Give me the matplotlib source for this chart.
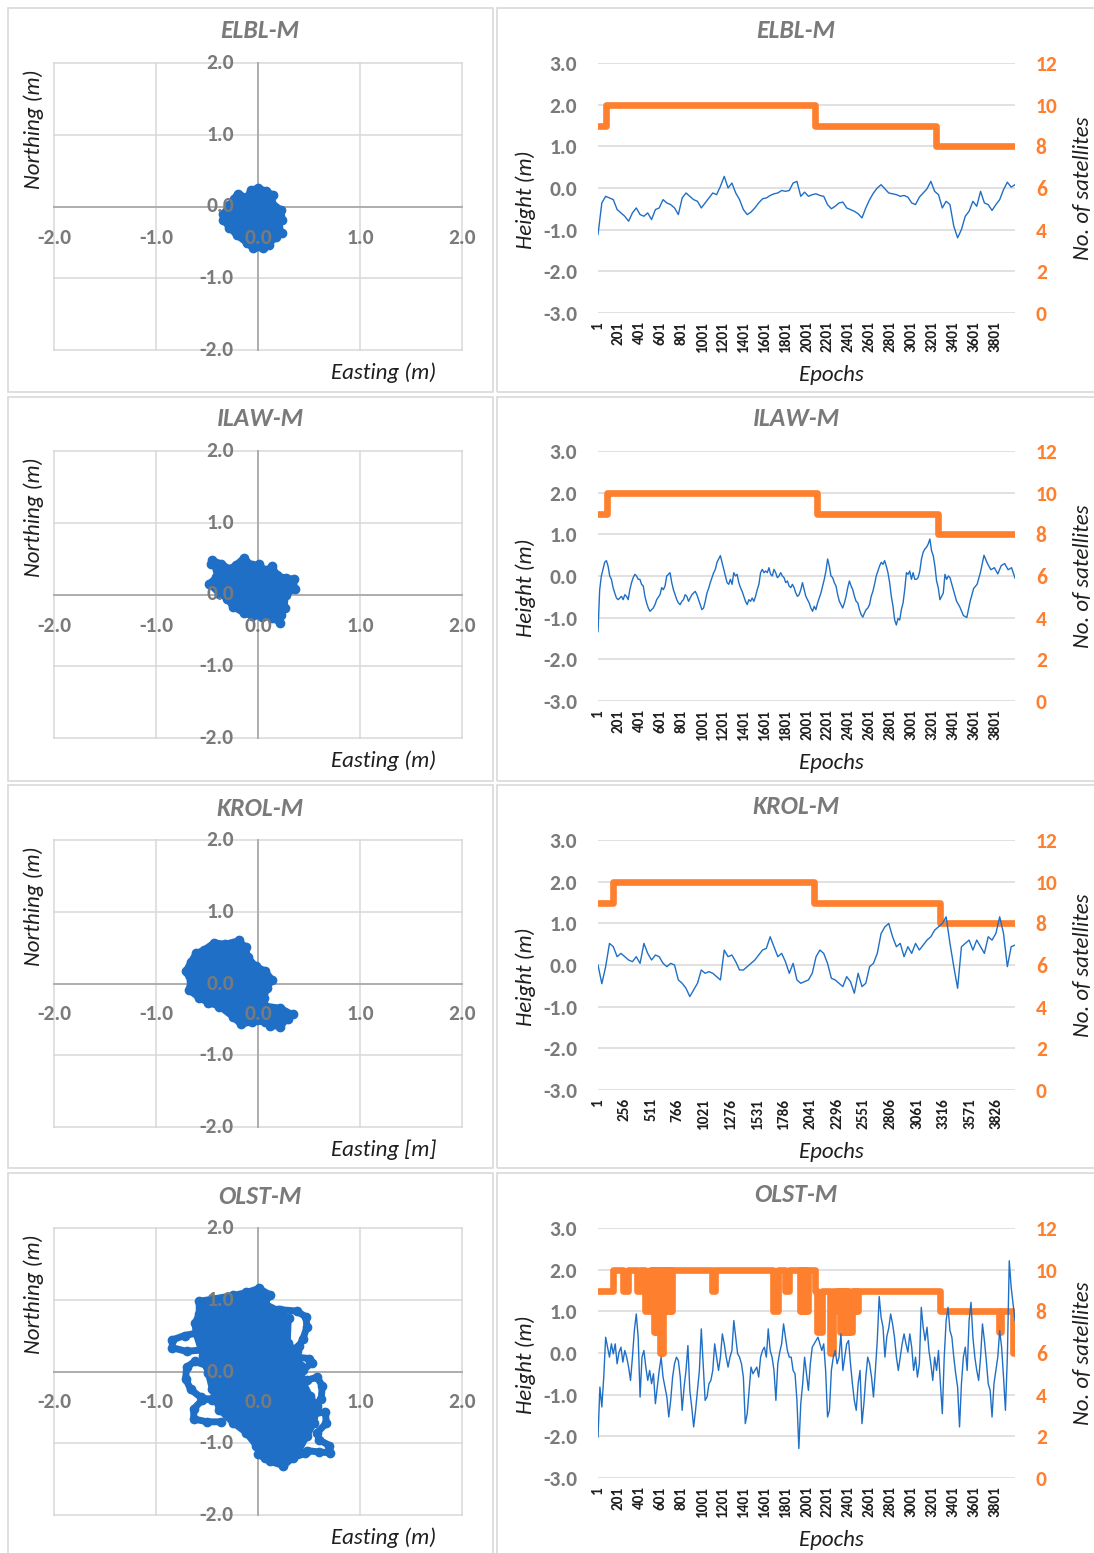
import os
import numpy as np
import matplotlib
matplotlib.use("Agg")
import matplotlib.pyplot as plt
from matplotlib import font_manager as fm
from matplotlib.patches import Rectangle, Polygon

W, H = 1094, 1553
DPI = 100
GRAY = "#7A7A7A"
DARK = "#1F1F1F"
GRID = "#D9D9D9"
AXIS0 = "#A6A6A6"
BLUE = "#1F6FC6"
ORANGE = "#FE7F2D"


def _face_file(fam, bold, italic):
    try:
        path = fm.findfont(fm.FontProperties(family=fam, weight="bold" if bold else "normal",
                                             style="italic" if italic else "normal"),
                           fallback_to_default=False)
    except Exception:
        return ""
    return os.path.basename(path).lower()


def _has_face(fam, bold, italic):
    name = _face_file(fam, bold, italic)
    if not name:
        return False
    ok = True
    if bold:
        ok = ok and any(k in name for k in ("bold", "bd", "heavy", "black"))
    if italic:
        ok = ok and any(k in name for k in ("italic", "oblique", "bi.", "i.ttf"))
    return ok


CANDIDATES = ["Carlito", "Lato", "Open Sans", "Noto Sans", "Liberation Sans", "DejaVu Sans"]
FONT = next((f for f in CANDIDATES if _has_face(f, False, True)), "DejaVu Sans")
BOLD_FONT = next((f for f in CANDIDATES if _has_face(f, True, False)), "DejaVu Sans")
BOLD_ITALIC_FONT = next((f for f in CANDIDATES if _has_face(f, True, True)), BOLD_FONT)

STATIONS = ["ELBL-M", "ILAW-M", "KROL-M", "OLST-M"]
EASTING_LABELS = ["Easting (m)", "Easting (m)", "Easting [m]", "Easting (m)"]
N_EPOCHS = [3990, 3990, 4000, 3990]
TICK_STEP = [200, 200, 255, 200]

# ---------------- height residuals (m) ----------------
ELBL_H = [
    -1.12, -0.36, -0.20, -0.24, -0.28, -0.52, -0.60, -0.68, -0.80, -0.60,
    -0.48, -0.64, -0.68, -0.60, -0.76, -0.52, -0.48, -0.28, -0.36, -0.40,
    -0.48, -0.64, -0.24, -0.12, -0.20, -0.28, -0.32, -0.48, -0.36, -0.24,
    -0.12, -0.16, 0.04, 0.28, 0.00, 0.12, -0.12, -0.28, -0.52, -0.64,
    -0.58, -0.48, -0.36, -0.26, -0.24, -0.18, -0.14, -0.12, -0.06, -0.08,
    -0.06, 0.12, 0.16, -0.20, -0.10, -0.20, -0.16, -0.14, -0.18, -0.20,
    -0.40, -0.50, -0.44, -0.36, -0.34, -0.48, -0.52, -0.56, -0.62, -0.72,
    -0.48, -0.28, -0.12, 0.00, 0.08, -0.02, -0.12, -0.14, -0.16, -0.20,
    -0.18, -0.22, -0.36, -0.40, -0.22, -0.12, -0.02, 0.16, -0.08, -0.16,
    -0.48, -0.32, -0.40, -0.92, -1.20, -1.00, -0.68, -0.56, -0.32, -0.44,
    -0.08, -0.36, -0.40, -0.54, -0.40, -0.28, -0.04, 0.14, 0.02, 0.08,
]

ILAW_H_MAIN = [
    -1.34, -0.33, 0.00, 0.16, 0.33, 0.37, 0.24, 0.00, -0.08, -0.28,
    -0.41, -0.53, -0.57, -0.53, -0.49, -0.57, -0.45, -0.49, -0.57, -0.33,
    -0.16, -0.04, 0.04, 0.00, -0.08, -0.08, -0.20, -0.24, -0.49, -0.65,
    -0.77, -0.85, -0.81, -0.77, -0.69, -0.57, -0.51, -0.45, -0.28, -0.33,
    -0.24, 0.00, 0.04, 0.08, -0.16, -0.33, -0.45, -0.57, -0.65, -0.69,
    -0.61, -0.57, -0.45, -0.49, -0.61, -0.53, -0.45, -0.41, -0.37, -0.45,
    -0.57, -0.69, -0.81, -0.77, -0.61, -0.41, -0.30, -0.16, -0.04, 0.08,
    0.16, 0.33, 0.41, 0.49, 0.33, 0.16, 0.00, -0.16, -0.20, -0.08,
    -0.20, 0.08, 0.00, 0.04, -0.16, -0.28, -0.37, -0.49, -0.61, -0.69,
    -0.57, -0.61, -0.53, -0.61, -0.49, -0.33, -0.20, 0.08, 0.16, 0.08,
    0.12, 0.08, 0.20, 0.04, 0.00, 0.16, 0.08, -0.04, 0.00, 0.08,
    0.00, -0.04, -0.16, -0.12, -0.24, -0.28, -0.20, -0.28, -0.41, -0.49,
    -0.45, -0.33, -0.16, -0.33, -0.49, -0.57, -0.65, -0.77, -0.85, -0.73,
    -0.81, -0.65, -0.53, -0.41, -0.24, -0.08, 0.12, 0.41, 0.24, 0.00,
    -0.04, -0.16, -0.24, -0.45, -0.61, -0.69, -0.77, -0.65, -0.49, -0.28,
    -0.12, -0.24, -0.33, -0.49, -0.61, -0.65, -0.81, -0.93, -0.99, -0.89,
    -0.81, -0.77, -0.69, -0.49, -0.37, -0.20, 0.00, 0.12, 0.24, 0.33,
    0.28, 0.37, 0.24, 0.08, -0.16, -0.49, -0.73, -1.06, -1.18, -1.02,
    -1.06, -0.81, -0.65, -0.33, 0.08, 0.04, 0.12, -0.08, 0.08, -0.08,
    -0.08, -0.04, 0.12, 0.41, 0.57, 0.65, 0.69, 0.77, 0.89, 0.61,
    0.49, 0.24, -0.12, -0.28, -0.57, -0.49, -0.41, 0.04, -0.08, 0.00,
    -0.04,
]
ILAW_H_TAIL = [
    -0.30, -0.60, -0.75, -0.95, -1.00, -0.60, -0.30, -0.20, 0.10, 0.50,
    0.30, 0.15, 0.20, 0.05, 0.25, 0.30, 0.15, 0.20, -0.05,
]

KROL_H = [
    0.00, -0.45, -0.04, 0.52, 0.44, 0.20, 0.28, 0.20, 0.12, 0.08,
    0.20, 0.04, 0.52, 0.28, 0.12, 0.24, 0.20, 0.04, -0.04, 0.04,
    0.00, -0.36, -0.44, -0.56, -0.76, -0.60, -0.44, -0.12, -0.20, -0.16,
    -0.20, -0.28, -0.36, 0.36, 0.20, 0.24, 0.08, -0.12, -0.12, -0.04,
    0.04, 0.12, 0.24, 0.36, 0.40, 0.68, 0.44, 0.20, 0.28, 0.08,
    -0.20, 0.04, -0.36, -0.44, -0.40, -0.36, -0.20, 0.20, 0.36, 0.28,
    0.04, -0.32, -0.36, -0.44, -0.52, -0.28, -0.40, -0.68, -0.20, -0.52,
    -0.44, -0.04, 0.04, 0.28, 0.76, 0.92, 1.00, 0.68, 0.44, 0.52,
    0.20, 0.44, 0.28, 0.52, 0.36, 0.48, 0.60, 0.68, 0.84, 0.92,
    1.00, 1.16, 0.52, -0.04, -0.56, 0.44, 0.52, 0.60, 0.36, 0.60,
    0.44, 0.28, 0.68, 0.60, 0.76, 1.16, 0.76, -0.04, 0.44, 0.48,
]

OLST_H = [
    -2.02, -0.82, -1.30, -0.58, 0.38, 0.14, -0.10, 0.22, -0.02, 0.22,
    -0.26, 0.02, 0.14, -0.22, 0.06, -0.10, -0.34, -0.66, -0.10, 0.54,
    0.94, 0.38, -1.06, -0.10, 0.06, -0.34, -0.66, -0.42, -0.74, -0.50,
    -1.22, -0.82, -0.42, -0.10, -0.58, -0.82, -1.06, -1.54, -1.14, -0.58,
    -0.26, -0.10, -0.18, -0.58, -1.38, -0.82, -0.42, 0.18, -0.90, -1.30,
    -1.78, -1.38, -0.90, -0.42, 0.58, -0.26, -1.14, -1.06, -0.74, -0.66,
    -0.42, 0.22, -0.10, -0.42, -0.10, 0.46, 0.22, -0.10, -0.34, -0.10,
    0.06, 0.78, 0.38, -0.02, -0.10, -0.26, -0.58, -1.70, -1.46, -0.90,
    -0.34, -0.50, -0.42, -0.34, -0.58, -0.10, 0.06, 0.14, -0.10, 0.58,
    0.06, -0.10, -0.42, -1.14, -0.26, 0.02, 0.22, 0.70, 0.38, 0.06,
    -0.10, -0.10, -0.42, -0.50, -1.14, -2.30, -1.22, -0.74, -0.10, -0.50,
    -0.90, -0.26, 0.14, 0.22, 0.30, 0.38, 0.22, 0.06, 0.22, -0.42,
    -1.54, -1.38, -0.42, -0.10, 0.06, -0.26, -0.10, 0.46, -0.42, -0.10,
    0.22, 0.30, -0.26, -0.74, -1.14, -1.38, -0.74, -0.42, -1.70, -1.22,
    -0.58, -0.10, -0.26, -0.58, -1.06, -0.42, 0.30, 1.36, 0.86, 0.62,
    -0.10, 0.40, 0.60, 0.94, 0.70, 0.38, -0.10, -0.42, -0.10, 0.22,
    0.46, 0.22, 0.02, 0.46, 0.14, -0.42, -0.10, -0.58, -0.26, 1.10,
    0.62, 0.30, 0.62, 0.06, -0.26, -0.66, -0.10, -0.42, 0.06, -0.74,
    -1.46, -0.10, 0.78, 1.10, 0.54, 0.38, -0.10, -0.50, -0.82, -1.78,
    -0.74, -0.10, 0.14, -0.42, 0.78, 1.22, 0.38, -0.10, -0.42, -0.66,
    -0.10, 0.70, 0.30, -0.18, -0.74, -0.90, -1.54, -0.74, -0.42, -0.10,
    0.54, 0.14, -0.58, -1.38, -0.10, 2.22, 1.58, 1.18, 0.78,
]

# ---------------- number of satellites: (first epoch, count) ----------------
ELBL_SAT = [(1, 9), (73, 10), (2080, 9), (3230, 8)]
ILAW_SAT = [(1, 9), (90, 10), (2095, 9), (3253, 8)]
KROL_SAT = [(1, 9), (147, 10), (2072, 9), (3277, 8)]
OLST_SAT = [
    (1, 9), (147, 10), (240, 9), (290, 10), (375, 9), (405, 10), (450, 8), (500, 10),
    (517, 8), (527, 10), (537, 7), (550, 10), (560, 7), (575, 10), (585, 7), (594, 6),
    (605, 10), (612, 6), (625, 10), (632, 8), (645, 10), (655, 8), (668, 10), (678, 8),
    (690, 10), (700, 8), (710, 10),
    (1091, 9), (1120, 10), (1675, 8), (1720, 10), (1790, 9), (1828, 10),
    (1933, 8), (1945, 10), (1952, 8), (1965, 10), (1972, 8), (1985, 10), (1992, 8),
    (2010, 10), (2077, 9), (2096, 7), (2144, 9), (2220, 6), (2250, 9),
    (2297, 8), (2310, 9), (2316, 7), (2335, 9), (2345, 7), (2365, 9), (2375, 7),
    (2395, 9), (2405, 7), (2431, 9), (2440, 8), (2460, 9), (2470, 8), (2488, 9),
    (3272, 8), (3840, 7), (3860, 8), (3970, 6),
]

# ---------------- horizontal scatter (Easting, Northing) in m ----------------
ELBL_CLOUD = [
    (0.00, 0.26), (0.08, 0.22), (0.15, 0.16), (0.13, 0.06), (0.23, -0.05),
    (0.24, -0.19), (0.20, -0.28), (0.24, -0.37), (0.18, -0.42), (0.11, -0.53),
    (0.05, -0.58), (-0.05, -0.58), (-0.11, -0.51), (-0.21, -0.40), (-0.28, -0.30),
    (-0.34, -0.19), (-0.34, -0.10), (-0.28, 0.02), (-0.24, 0.11), (-0.20, 0.18),
    (-0.11, 0.13), (-0.07, 0.23),
]
ILAW_CLOUD = [
    (-0.14, 0.51), (-0.06, 0.41), (0.01, 0.42), (0.07, 0.34), (0.14, 0.39),
    (0.19, 0.27), (0.27, 0.23), (0.35, 0.22), (0.36, 0.08), (0.27, -0.01),
    (0.26, -0.19), (0.23, -0.29), (0.22, -0.40), (0.14, -0.33), (0.04, -0.31),
    (-0.06, -0.30), (-0.14, -0.26), (-0.25, -0.17), (-0.30, -0.06), (-0.38, 0.01),
    (-0.48, 0.15), (-0.41, 0.24), (-0.40, 0.34), (-0.46, 0.43), (-0.45, 0.48),
    (-0.36, 0.43), (-0.28, 0.36), (-0.22, 0.41),
]
KROL_CLOUD = [
    (-0.61, 0.42), (-0.53, 0.47), (-0.43, 0.57), (-0.32, 0.55), (-0.19, 0.60),
    (-0.12, 0.51), (-0.10, 0.37), (-0.02, 0.24), (0.07, 0.18), (0.14, 0.05),
    (0.09, -0.06), (0.06, -0.20), (0.07, -0.31), (0.22, -0.34), (0.34, -0.43),
    (0.29, -0.49), (0.22, -0.60), (0.12, -0.59), (0.07, -0.53), (-0.06, -0.54),
    (-0.17, -0.57), (-0.25, -0.46), (-0.38, -0.32), (-0.49, -0.27), (-0.58, -0.20),
    (-0.68, -0.09), (-0.66, 0.03), (-0.71, 0.17), (-0.66, 0.30),
]
OLST_CLOUD = [
    (-0.58, 0.98), (-0.45, 1.01), (-0.25, 1.06), (-0.12, 1.10), (0.01, 1.16),
    (0.12, 1.07), (0.07, 0.94), (0.20, 0.85), (0.30, 0.74), (0.29, 0.39),
    (0.38, 0.28), (0.42, 0.07), (0.43, -0.11), (0.51, -0.34), (0.58, -0.48),
    (0.55, -0.71), (0.48, -0.90), (0.40, -1.10), (0.30, -1.17), (0.22, -1.26),
    (0.07, -1.20), (-0.02, -1.03), (-0.12, -0.85), (-0.25, -0.71), (-0.38, -0.53),
    (-0.45, -0.25), (-0.49, -0.02), (-0.54, 0.21), (-0.61, 0.53), (-0.62, 0.67),
    (-0.58, 0.80),
]
OLST_LOOPS = [
    [(-0.55, 0.55), (-0.72, 0.50), (-0.84, 0.44), (-0.84, 0.33), (-0.70, 0.28), (-0.55, 0.30)],
    [(-0.50, 0.08), (-0.62, 0.14), (-0.70, 0.06), (-0.71, -0.10), (-0.66, -0.25),
     (-0.56, -0.36), (-0.45, -0.40)],
    [(-0.40, -0.36), (-0.55, -0.40), (-0.63, -0.52), (-0.63, -0.66), (-0.50, -0.70), (-0.36, -0.70)],
    [(0.22, 0.86), (0.38, 0.84), (0.47, 0.76), (0.48, 0.62), (0.44, 0.45), (0.40, 0.35), (0.32, 0.30)],
    [(0.38, 0.20), (0.50, 0.18), (0.53, 0.12), (0.44, 0.02)],
    [(0.48, -0.12), (0.58, -0.08), (0.63, -0.20), (0.62, -0.38), (0.55, -0.50)],
    [(0.52, -0.60), (0.66, -0.56), (0.67, -0.72), (0.58, -0.85), (0.60, -0.95),
     (0.70, -1.03), (0.71, -1.13), (0.60, -1.12), (0.48, -1.10)],
    [(0.00, -1.15), (0.12, -1.25), (0.25, -1.31), (0.34, -1.20), (0.46, -1.14)],
]

CLOUDS = [ELBL_CLOUD, ILAW_CLOUD, KROL_CLOUD, OLST_CLOUD]
LOOPS = [[], [], [], OLST_LOOPS]
SATS = [ELBL_SAT, ILAW_SAT, KROL_SAT, OLST_SAT]

HEIGHTS = [
    (np.linspace(1, 3990, len(ELBL_H)), np.array(ELBL_H)),
    (np.concatenate([np.linspace(1, 3368, len(ILAW_H_MAIN)),
                     np.linspace(3397, 3990, len(ILAW_H_TAIL))]),
     np.array(ILAW_H_MAIN + ILAW_H_TAIL)),
    (np.linspace(1, 4000, len(KROL_H)), np.array(KROL_H)),
    (np.linspace(1, 3990, len(OLST_H)), np.array(OLST_H)),
]

ROW_OFFSET = [0, 388, 777, 1165]
ROW_BOX = [(8, 392), (397, 781), (785, 1168), (1173, 1560)]

fig = plt.figure(figsize=(W / DPI, H / DPI), dpi=DPI)
fig.patch.set_facecolor("white")


def fx(x):
    return x / W


def fy(y):
    return 1 - y / H


def fmt(v):
    return f"{v:.1f}"


TICK_FS = 15.5
EPOCH_FS = 11
TITLE_KW = dict(ha="center", va="center", fontsize=18.5, fontweight="bold",
                style="italic", color=GRAY, family=BOLD_ITALIC_FONT)
AXT_KW = dict(ha="center", va="center", fontsize=16.5, style="italic", color=DARK,
              family=FONT)

for r in range(4):
    o = ROW_OFFSET[r]
    top, bot = ROW_BOX[r]
    # panel frames
    for x0, x1 in [(8, 493), (497, 1102)]:
        fig.add_artist(Rectangle((fx(x0), fy(bot)), fx(x1) - fx(x0), fy(top) - fy(bot),
                                 transform=fig.transFigure, fill=False,
                                 edgecolor=GRID, linewidth=1.2))

    # ---------- horizontal scatter ----------
    ax = fig.add_axes([fx(53), fy(351 + o), 410 / W, 289 / H])
    ax.set_xlim(-2.01, 2.01)
    ax.set_ylim(-2.01, 2.01)
    ticks = [-2, -1, 0, 1, 2]
    ax.set_xticks(ticks)
    ax.set_yticks(ticks)
    ax.tick_params(length=0, labelbottom=False, labelleft=False)
    ax.grid(True, color=GRID, linewidth=1.1)
    ax.set_axisbelow(True)
    for s in ax.spines.values():
        s.set_visible(False)
    ax.axhline(0, color=AXIS0, linewidth=1.2, zorder=1.5)
    ax.axvline(0, color=AXIS0, linewidth=1.2, zorder=1.5)

    cloud = np.array(CLOUDS[r])
    ax.add_patch(Polygon(cloud, closed=True, facecolor=BLUE, edgecolor=BLUE,
                         linewidth=4.5, joinstyle="round", zorder=2))
    ax.plot(cloud[:, 0], cloud[:, 1], "o", color=BLUE, ms=6, zorder=2)
    for loop in LOOPS[r]:
        lp = np.array(loop)
        ax.plot(lp[:, 0], lp[:, 1], color=BLUE, lw=5, marker="o", ms=6,
                solid_capstyle="round", solid_joinstyle="round", zorder=2)

    for v in ticks:
        ax.annotate(fmt(v), xy=(v, 0), xytext=(0, -31), textcoords="offset pixels",
                    ha="center", va="center", fontsize=TICK_FS, fontweight="bold",
                    color=GRAY, family=BOLD_FONT, zorder=6, annotation_clip=False)
        ax.annotate(fmt(v), xy=(0, v), xytext=(-24, 0), textcoords="offset pixels",
                    ha="right", va="center", fontsize=TICK_FS, fontweight="bold",
                    color=GRAY, family=BOLD_FONT, zorder=6, annotation_clip=False)

    fig.text(fx(260), fy(31 + o), STATIONS[r], **TITLE_KW)
    fig.text(fx(34), fy(129 + o), "Northing (m)", rotation=90, **AXT_KW)
    fig.text(fx(384), fy(373 + o), EASTING_LABELS[r], **AXT_KW)

    # ---------- height and satellites over epochs ----------
    n = N_EPOCHS[r]
    axh = fig.add_axes([fx(598), fy(313 + o), 417 / W, 250 / H])
    axs = axh.twinx()
    axh.set_zorder(axs.get_zorder() + 1)
    axh.patch.set_visible(False)

    axh.set_xlim(1, n)
    axh.set_ylim(-3.01, 3.01)
    axs.set_ylim(-0.02, 12.02)
    hticks = np.arange(-3, 3.5, 1.0)
    axh.set_yticks(hticks)
    axh.set_yticklabels([fmt(v) for v in hticks], fontsize=TICK_FS, fontweight="bold",
                        color=GRAY, family=BOLD_FONT)
    sticks = list(range(0, 13, 2))
    axs.set_yticks(sticks)
    axs.set_yticklabels([str(v) for v in sticks], fontsize=TICK_FS, fontweight="bold",
                        color=ORANGE, family=BOLD_FONT)
    axs.grid(True, axis="y", color=GRID, linewidth=1.1)
    axs.set_axisbelow(True)

    xt = list(range(1, n, TICK_STEP[r]))
    axh.set_xticks(xt)
    axh.set_xticklabels([str(t) for t in xt], rotation=90, fontsize=EPOCH_FS,
                        fontweight="bold", color=DARK, family=BOLD_FONT)
    axh.tick_params(axis="x", length=0, pad=6)
    axh.tick_params(axis="y", length=0, pad=15)
    axs.tick_params(axis="y", length=0, pad=15)
    for a in (axh, axs):
        for s in a.spines.values():
            s.set_visible(False)

    changes = SATS[r]
    sx = [c[0] for c in changes] + [n]
    sy = [c[1] for c in changes] + [changes[-1][1]]
    axs.plot(sx, sy, drawstyle="steps-post", color=ORANGE, lw=4.8,
             solid_joinstyle="round", solid_capstyle="round")

    ex, hv = HEIGHTS[r]
    axh.plot(ex, hv, color=BLUE, lw=1.0)

    fig.text(fx(796), fy(30 + o), STATIONS[r], **TITLE_KW)
    fig.text(fx(526), fy(200 + o), "Height (m)", rotation=90, **AXT_KW)
    fig.text(fx(1083), fy(188 + o), "No. of satellites", rotation=90, **AXT_KW)
    fig.text(fx(831), fy(375 + o), "Epochs", **AXT_KW)

fig.savefig("out.png", dpi=DPI, facecolor="white")
